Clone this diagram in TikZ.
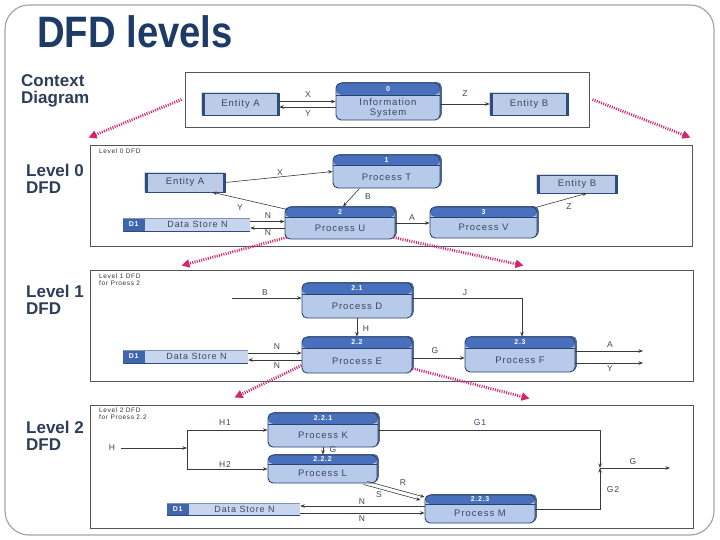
\documentclass[tikz,border=0pt]{standalone}
\usepackage{fontspec}
\usepackage{graphicx}
\setmainfont{Liberation Sans}
\newfontfamily\dfont[LetterSpace=10]{Liberation Sans}
\usetikzlibrary{arrows.meta,shadows,calc}
\definecolor{procfill}{HTML}{B8CAEA}
\definecolor{procband}{HTML}{4870BC}
\definecolor{procborder}{HTML}{27436F}
\definecolor{entfill}{HTML}{BCCBE6}
\definecolor{entedge}{HTML}{2F4C80}
\definecolor{storefill}{HTML}{C8D5EE}
\definecolor{storeD}{HTML}{3F66AD}
\definecolor{textc}{HTML}{3B4660}
\definecolor{titlec}{HTML}{1E3A66}
\definecolor{sidec}{HTML}{2E3D5A}
\definecolor{magc}{HTML}{D3246E}
\definecolor{framec}{HTML}{A6A6A6}
\definecolor{panelc}{HTML}{555555}
\definecolor{flowc}{HTML}{3A3A3A}
\newcommand\proc[7]{%
  \node[proc, minimum width=#4pt, minimum height=#5pt] (#1) at (#2,#3) {};
  \node[pnum] (#1-n) at ($(#1.north)!0.16!(#1.south)$) {#6};
  \node[ptext] (#1-t) at ($(#1.north)!0.66!(#1.south)$) {#7};
}
\newcommand\store[5]{%
  \node[store, minimum width=#4pt, minimum height=#5pt] (#1) at (#2,#3) {};
  \node[storeid] (#1-d) at ($(#1.west)+(11,0)$) {D1};
  \node[storetext] (#1-t) at ($(#1.center)+(11,0)$) {Data Store N};
}
\begin{document}
\begin{tikzpicture}[x=1pt,y=-1pt,
  panel/.style={draw=panelc, line width=0.9pt, fill=white, inner sep=0pt},
  proc/.style={rectangle, rounded corners=5pt, draw=procborder, line width=0.9pt, fill=procfill, inner sep=0pt,
    drop shadow={shadow xshift=1.8pt, shadow yshift=1pt, fill=procborder, opacity=0.8},
    path picture={\fill[procband] (path picture bounding box.north west) rectangle ($(path picture bounding box.north east)!0.32!(path picture bounding box.south east)$);
      \draw[procborder, line width=0.5pt] ($(path picture bounding box.north west)!0.32!(path picture bounding box.south west)$) -- ($(path picture bounding box.north east)!0.32!(path picture bounding box.south east)$);}},
  pnum/.style={font=\dfont\bfseries\fontsize{7}{8}\selectfont, text=white, inner sep=0pt},
  ptext/.style={font=\dfont\fontsize{9.5}{10}\selectfont, text=textc, inner sep=0pt, align=center},
  ent/.style={rectangle, draw=entedge, line width=0.5pt, fill=entfill, inner sep=0pt,
    font=\dfont\fontsize{9.5}{10}\selectfont, text=textc,
    drop shadow={shadow xshift=-1.5pt, shadow yshift=1.5pt, fill=gray!60, opacity=0.5},
    path picture={\fill[entedge] (path picture bounding box.north west) rectangle ([xshift=2.5pt]path picture bounding box.south west);
      \fill[entedge] ([xshift=-2.2pt]path picture bounding box.north east) rectangle (path picture bounding box.south east);}},
  store/.style={rectangle, fill=storefill, inner sep=0pt,
    path picture={\fill[storeD] (path picture bounding box.north west) rectangle ([xshift=22pt]path picture bounding box.south west);
      \draw[entedge, line width=1pt] (path picture bounding box.south west) -- (path picture bounding box.south east);
      \draw[entedge!60, line width=0.5pt] (path picture bounding box.north west) -- (path picture bounding box.north east);}},
  storeid/.style={font=\dfont\bfseries\fontsize{7}{8}\selectfont, text=white, inner sep=0pt},
  storetext/.style={font=\dfont\fontsize{9}{10}\selectfont, text=textc, inner sep=0pt},
  flow/.style={draw=flowc, line width=0.6pt, -{Stealth[length=4.5pt, width=3.5pt]}},
  plain/.style={draw=flowc, line width=0.6pt},
  lab/.style={font=\dfont\fontsize{8.5}{9}\selectfont, text=textc, inner sep=0pt},
  hdr/.style={font=\dfont\fontsize{6.5}{7}\selectfont, text=black!80, inner sep=0pt, anchor=north west, align=left},
  side/.style={font=\bfseries\fontsize{17}{17}\selectfont, text=sidec, inner sep=0pt, anchor=north west, align=left},
  mag/.style={draw=magc, line width=2.8pt, line cap=butt, dash pattern=on 1pt off 1.3pt, -{Triangle[length=8pt, width=8pt]}}
]
\useasboundingbox (0,0) rectangle (720,539);
\fill[white] (0,0) rectangle (720,539);
\draw[framec, line width=1.2pt, rounded corners=24pt] (5,5) rectangle (714,535);

% title and side labels
\node[anchor=west, inner sep=0pt, font=\bfseries\fontsize{44}{50}\selectfont, text=titlec] (title) at (37,32) {\scalebox{0.87}[1]{DFD levels}};
\node[side] (sctx) at (21,74) {Context\\Diagram};
\node[side] (s0) at (26,164) {Level 0\\DFD};
\node[side] (s1) at (26,285) {Level 1\\DFD};
\node[side] (s2) at (26,421) {Level 2\\DFD};

% panels
\node[panel, minimum width=404pt, minimum height=55pt] (ctxbox) at (387,99.5) {};
\node[panel, minimum width=602pt, minimum height=101pt] (l0box) at (391,195.5) {};
\node[panel, minimum width=603pt, minimum height=111pt] (l1box) at (391.5,325.5) {};
\node[panel, minimum width=603pt, minimum height=123pt] (l2box) at (391.5,466.5) {};

\node[hdr] (h0) at (99,149) {Level 0 DFD};
\node[hdr] (h1) at (99,274) {Level 1 DFD\\for Proess 2};
\node[hdr] (h2) at (99,408) {Level 2 DFD\\for Proess 2.2};

% ---------- context diagram
\node[ent, minimum width=77pt, minimum height=22pt] (ctxA) at (240.5,104) {Entity A};
\node[ent, minimum width=78pt, minimum height=22pt] (ctxB) at (529,104) {Entity B};
\proc{ctxI}{388}{101.5}{104}{37}{0}{Information\\System}
\draw[flow] ([yshift=2.5pt]ctxA.east) -- ([yshift=2.5pt]ctxA.east -| ctxI.west);
\draw[flow] ([yshift=-3pt]ctxA.east -| ctxI.west) -- ([yshift=-3pt]ctxA.east);
\draw[flow] (ctxI.east |- ctxB.west) -- (ctxB.west);
\node[lab] (cX) at (308,95) {X};
\node[lab] (cY) at (308,114) {Y};
\node[lab] (cZ) at (465,94) {Z};

% ---------- level 0
\node[ent, minimum width=80pt, minimum height=19pt] (l0A) at (185,182.5) {Entity A};
\node[ent, minimum width=80pt, minimum height=18pt] (l0B) at (577,184) {Entity B};
\proc{l0T}{386.5}{171.5}{107}{33}{1}{Process T}
\proc{l0U}{340}{223}{110}{32}{2}{Process U}
\proc{l0V}{483.5}{222.5}{107}{31}{3}{Process V}
\store{l0S}{186.5}{224.5}{127}{13}
\draw[flow] (l0A.east) -- (l0T.west);
\draw[flow] ($(l0U.north west)+(3,3)$) -- ($(l0A.south east)+(-13,0)$);
\draw[flow] ($(l0T.south)+(-27,0)$) -- ($(l0U.north)+(3,0)$);
\draw[flow] ([yshift=3pt]l0S.east) -- ([yshift=3pt]l0S.east -| l0U.west);
\draw[flow] ([yshift=-3.5pt]l0S.east -| l0U.west) -- ([yshift=-3.5pt]l0S.east);
\draw[flow] (l0U.east) -- (l0U.east -| l0V.west);
\draw[flow] ($(l0V.north east)+(-2,1)$) -- ($(l0B.south)+(10,0)$);
\node[lab] (zX) at (280,173) {X};
\node[lab] (zY) at (240,208) {Y};
\node[lab] (zB) at (368,197) {B};
\node[lab] (zN1) at (268,216) {N};
\node[lab] (zN2) at (268,233) {N};
\node[lab] (zA) at (412,218) {A};
\node[lab] (zZ) at (569,207) {Z};

% ---------- level 1
\proc{l1D}{357}{300.5}{110}{35}{2.1}{Process D}
\proc{l1E}{357}{355}{110}{36}{2.2}{Process E}
\proc{l1F}{520}{354.5}{110}{35}{2.3}{Process F}
\store{l1S}{185.5}{356.5}{125}{13}
\coordinate (l1Bin) at (232,298);
\coordinate (l1Aout) at (643,351);
\coordinate (l1Yout) at (643,363);
\draw[flow] (l1Bin) -- (l1Bin -| l1D.west);
\draw[flow] (l1D.south) -- (l1E.north);
\draw[flow] ([yshift=2.5pt]l1D.east) -| ($(l1F.north)+(2,0)$);
\draw[flow] ([yshift=3.5pt]l1S.east) -- ([yshift=3.5pt]l1S.east -| l1E.west);
\draw[flow] ([yshift=-3.5pt]l1S.east -| l1E.west) -- ([yshift=-3.5pt]l1S.east);
\draw[flow] ([yshift=-3pt]l1E.east) -- ([yshift=-3pt]l1E.east -| l1F.west);
\draw[flow] (l1Aout -| l1F.east) -- (l1Aout);
\draw[flow] (l1Yout -| l1F.east) -- (l1Yout);
\node[lab] (oB) at (265,293) {B};
\node[lab] (oH) at (366,329) {H};
\node[lab] (oJ) at (465,293) {J};
\node[lab] (oN1) at (277,347) {N};
\node[lab] (oN2) at (277,366) {N};
\node[lab] (oG) at (435,351) {G};
\node[lab] (oA) at (610,345) {A};
\node[lab] (oY) at (610,369) {Y};

% ---------- level 2
\proc{l2K}{323}{430}{110}{34}{2.2.1}{Process K}
\proc{l2L}{322.5}{469}{109}{28}{2.2.2}{Process L}
\proc{l2M}{480}{509}{110}{28}{2.2.3}{Process M}
\store{l2S}{233.5}{509}{133}{12}
\coordinate (l2Hin) at (121,448);
\coordinate (l2split) at (187,448);
\coordinate (l2j) at (600,468);
\coordinate (l2Gout) at (670,468);
\draw[flow] (l2Hin) -- (l2split);
\draw[plain] (l2split |- l2K.west) -- (l2split |- l2L.west);
\draw[flow] (l2split |- l2K.west) -- (l2K.west);
\draw[flow] (l2split |- l2L.west) -- (l2L.west);
\draw[flow] (l2K.south) -- (l2K.south |- l2L.north);
\draw[flow] (l2K.east) -| (l2j);
\draw[flow] (l2M.east) -| (l2j);
\draw[flow] (l2j) -- (l2Gout);
\draw[flow] ($(l2L.south east)+(-10,-2)$) -- ($(l2M.north west)+(0,2.5)$);
\draw[flow] ($(l2L.south east)+(-14,1)$) -- ($(l2M.north west)+(-4,5.5)$);
\draw[flow] ([yshift=3pt]l2M.west) -- ([yshift=3pt]l2M.west -| l2S.east);
\draw[flow] ([yshift=-4pt]l2S.east) -- ([yshift=-4pt]l2S.east -| l2M.west);
\node[lab] (tH) at (112,448) {H};
\node[lab] (tH1) at (225,423) {H1};
\node[lab] (tH2) at (225,465) {H2};
\node[lab] (tG) at (333,450) {G};
\node[lab] (tG1) at (480,423) {G1};
\node[lab] (tG2) at (613,490) {G2};
\node[lab] (tG3) at (633,462) {G};
\node[lab] (tR) at (403,483) {R};
\node[lab] (tS) at (379,495) {S};
\node[lab] (tN1) at (362,502) {N};
\node[lab] (tN2) at (362,519) {N};

% ---------- dotted magenta arrows
\draw[mag] ([xshift=-3pt]ctxbox.west) -- ($(l0box.north west)+(-1,-7)$);
\draw[mag] ([xshift=3pt]ctxbox.east) -- ($(l0box.north east)+(-2,-7)$);
\draw[mag] ($(l0U.south west)+(2,-2)$) -- ($(l1box.north west)+(92,-4)$);
\draw[mag] ($(l0U.south east)+(-2,-2)$) -- ($(l1box.north west)+(434,-4)$);
\draw[mag] ($(l1E.south west)+(0,-8)$) -- ($(l2box.north west)+(145,-7)$);
\draw[mag] ($(l1E.south east)+(0,-5)$) -- ($(l2box.north west)+(440,-6)$);
\end{tikzpicture}
\end{document}
